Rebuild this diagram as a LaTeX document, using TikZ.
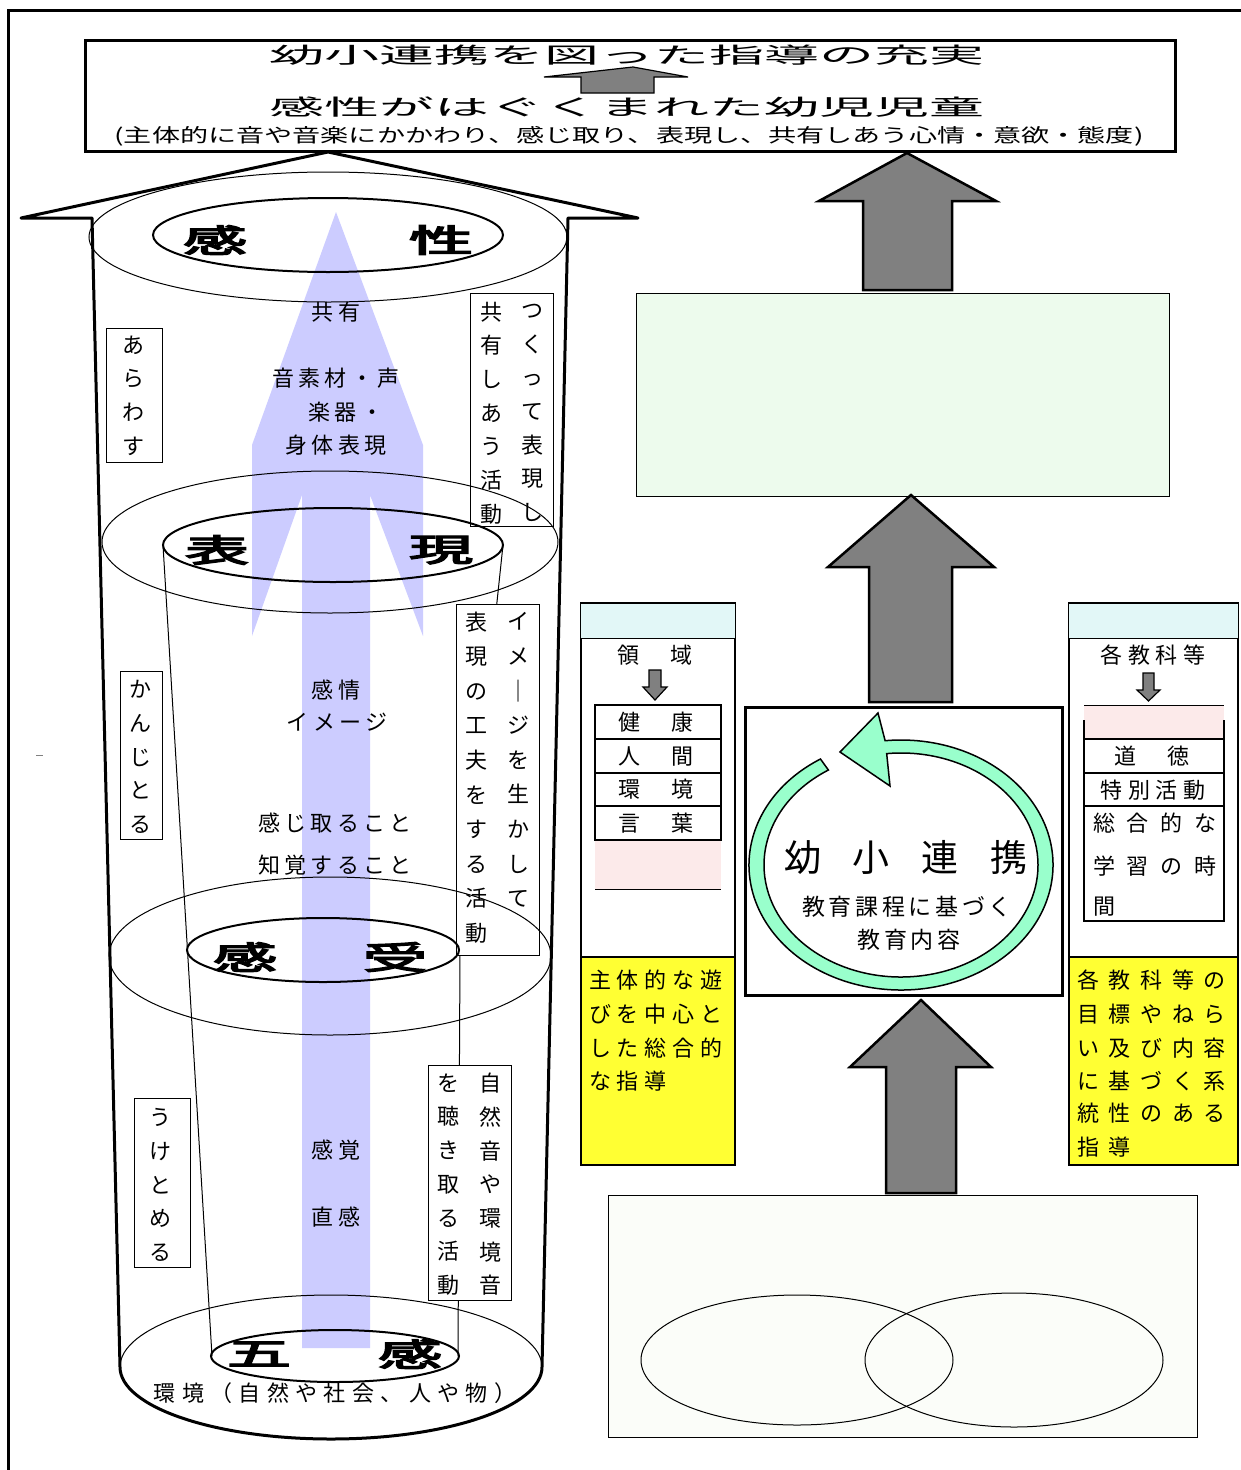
\documentclass[tikz,border=0pt]{standalone}
\usepackage{graphicx}
\usepackage{fontspec}
\setmainfont{Noto Sans CJK JP}
\newfontfamily\jpfont[LetterSpace=20]{Noto Sans CJK JP}
\newfontfamily\jpplain{Noto Sans CJK JP}
\newfontfamily\jpbold[FakeBold=4]{Noto Sans CJK JP}
\usetikzlibrary{calc}
\definecolor{lav}{HTML}{CCCCFF}
\definecolor{mint}{HTML}{99FFCC}
\definecolor{ylw}{HTML}{FFFF33}
\definecolor{cyanpat}{HTML}{E2F7F7}
\definecolor{pinkpat}{HTML}{FCEAEA}
\definecolor{greenpat}{HTML}{EDFBED}
\definecolor{offwhite}{HTML}{FBFDF9}
\definecolor{arrowgray}{HTML}{808080}
\begin{document}
\begin{tikzpicture}[x=1pt,y=-1pt,
  txt/.style={inner sep=0pt, font=\jpfont\fontsize{22}{22}\selectfont},
  vtxt/.style={inner sep=0pt, align=center, font=\jpplain\fontsize{22}{33.7}\selectfont},
  vtxtb/.style={inner sep=0pt, align=center, font=\jpplain\fontsize{22}{34.6}\selectfont},
  big/.style={inner sep=0pt, font=\jpbold\fontsize{32}{32}\selectfont},
  tbox/.style={draw, line width=1pt, fill=white},
  thin/.style={line width=1pt},
  ringline/.style={line width=2pt},
  garrow/.style={fill=arrowgray, draw=black, line width=2.5pt, line join=miter},
  sarrow/.style={fill=arrowgray, draw=black, line width=1.2pt, line join=miter},
]
\useasboundingbox (0,0) rectangle (1241,1470);
\fill[white] (0,0) rectangle (1241,1470);

% outer frame
\draw[line width=3pt] (1241,10) -- (8,10) -- (8,1470);
\draw[gray, line width=1pt] (36,755) -- (43,755);

% ---------------- top box ----------------
\draw[line width=3pt] (85,40) rectangle (1175,151);
\node[inner sep=0pt] (t1) at (627,55) {\scalebox{2.5}[1]{\jpplain\fontsize{22}{22}\selectfont 幼小連携を図った指導の充実}};
\filldraw[sarrow] (633,67) -- (688,77) -- (654,77) -- (654,93) -- (581,93) -- (581,77) -- (544,77) -- cycle;
\node[inner sep=0pt] (t2) at (627,107) {\scalebox{2.5}[1]{\jpplain\fontsize{22}{22}\selectfont 感性がはぐくまれた幼児児童}};
\node[inner sep=0pt] (t3) at (629,136) {\scalebox{1.48}[1]{\jpplain\fontsize{19}{19}\selectfont (主体的に音や音楽にかかわり、感じ取り、表現し、共有しあう心情・意欲・態度)}};

% ---------------- left: blue arrow ----------------
\fill[lav] (336,212) -- (423,445) -- (423,636) -- (370,495) -- (370,1348) -- (302,1348) -- (302,495) -- (252,636) -- (252,445) -- cycle;

% big house arrow outline
\draw[line width=3pt, line join=round] (328,152) -- (638,218) -- (568,218) -- (542,1367)
  arc[start angle=0, end angle=180, x radius=211, y radius=72] -- (92,218) -- (21,218) -- cycle;

% inner cup lines
\draw[thin] (163,545) -- (212,1356);
\draw[thin] (503,545) -- (460,952) -- (458,1356);

% text boxes (vertical text)
\draw[tbox] (106,328) rectangle (162,462);
\draw[tbox] (120,671) rectangle (162,839);
\draw[tbox] (134,1098) rectangle (190,1267);
\draw[tbox] (470,293) rectangle (553,526);
\draw[tbox] (456,604) rectangle (539,955);
\draw[tbox] (428,1065) rectangle (511,1300);

% ellipses
\draw[thin] (328,237) ellipse [x radius=239, y radius=65];
\draw[ringline] (328,235) ellipse [x radius=175, y radius=37];
\draw[thin] (330,542) ellipse [x radius=228, y radius=71];
\draw[ringline] (333,545) ellipse [x radius=170, y radius=37];
\draw[thin] (330,956) ellipse [x radius=221, y radius=79];
\draw[ringline] (323,950) ellipse [x radius=136, y radius=32];
\draw[thin] (331,1367) ellipse [x radius=211, y radius=72];
\draw[ringline] (335,1356) ellipse [x radius=124, y radius=26];

% big characters
\node[big] (k1) at (215,240) {\scalebox{2}[1]{感}};
\node[big] (k2) at (441,240) {\scalebox{2}[1]{性}};
\node[big] (h1) at (217,550) {\scalebox{2}[1]{表}};
\node[big] (h2) at (441,550) {\scalebox{2}[1]{現}};
\node[big] (j1) at (245,957) {\scalebox{2}[1]{感}};
\node[big] (j2) at (395,957) {\scalebox{2}[1]{受}};
\node[big] (g1) at (259,1354) {\scalebox{2}[1]{五}};
\node[big] (g2) at (410,1354) {\scalebox{2}[1]{感}};

% center texts
\node[txt] (c1) at (336,312) {共有};
\node[txt] (c2) at (336,378) {音素材・声};
\node[txt] (c3) at (346,412) {楽器・};
\node[txt] (c4) at (336,445) {身体表現};
\node[txt] (c5) at (336,690) {感情};
\node[txt] (c6) at (337,722) {イメージ};
\node[txt] (c7) at (335,823) {感じ取ること};
\node[txt] (c8) at (335,865) {知覚すること};
\node[txt] (c9) at (336,1150) {感覚};
\node[txt] (c10) at (336,1217) {直感};
\node[txt, font=\jpplain\fontsize{22}{22}\selectfont\addfontfeature{LetterSpace=29}] (c11) at (335,1393) {環境（自然や社会、人や物）};

% vertical texts
\node[vtxt] (v1) at (133,395.5) {あ\\ら\\わ\\す};
\node[vtxt] (v2) at (140.5,757) {か\\ん\\じ\\と\\る};
\node[vtxt] (v3) at (160,1185) {う\\け\\と\\め\\る};
\node[vtxt] (v4) at (532,413) {つ\\く\\っ\\て\\表\\現\\し};
\node[vtxt] (v5) at (491,413) {共\\有\\し\\あ\\う\\活\\動};
\node[vtxtb] (v6) at (518,760) {イ\\メ\\｜\\ジ\\を\\生\\か\\し\\て};
\node[vtxtb] (v7) at (476,777.5) {表\\現\\の\\工\\夫\\を\\す\\る\\活\\動};
\node[vtxt] (v8) at (490,1184.5) {自\\然\\音\\や\\環\\境\\音};
\node[vtxt] (v9) at (448,1184.5) {を\\聴\\き\\取\\る\\活\\動};

% ---------------- right side ----------------
% top gray arrow
\filldraw[garrow] (907,153) -- (996,201) -- (952,201) -- (952,290) -- (863,290) -- (863,201) -- (819,201) -- cycle;
% green box
\draw[thin, fill=greenpat] (636,293) rectangle (1169,496);
% middle gray arrow
\filldraw[garrow] (911,495) -- (994,567) -- (952,567) -- (952,702) -- (869,702) -- (869,567) -- (828,567) -- cycle;

% center box with ring
\draw[line width=3pt] (745,707) rectangle (1062,995);
\filldraw[fill=mint, line width=1.5pt, line join=miter]
  ($(901,865)+(238:152 and 125)$) arc[start angle=238, end angle=-96, x radius=152, y radius=125]
  -- (878,713) -- (840,752) -- (890,786)
  -- ($(901,865)+(-96:137 and 112)$) arc[start angle=-96, end angle=238, x radius=137, y radius=112]
  -- cycle;
\node[inner sep=0pt, font=\jpplain\fontsize{37}{37}\selectfont] (yo) at (906,857) {幼\hspace{32pt}小\hspace{32pt}連\hspace{32pt}携};
\node[inner sep=0pt, font=\jpplain\fontsize{23}{23}\selectfont\addfontfeature{LetterSpace=16}] (yo2) at (907,907) {教育課程に基づく};
\node[inner sep=0pt, font=\jpplain\fontsize{23}{23}\selectfont\addfontfeature{LetterSpace=16}] (yo3) at (909,940) {教育内容};

% bottom gray arrow
\filldraw[garrow] (921,1000) -- (991,1067) -- (956,1067) -- (956,1193) -- (886,1193) -- (886,1067) -- (850,1067) -- cycle;

% bottom box
\draw[thin, fill=offwhite] (608,1195) rectangle (1197,1437);
\draw[thin] (797,1360) ellipse [x radius=156, y radius=65];
\draw[thin] (1014,1360) ellipse [x radius=149, y radius=67];

% left panel
\draw[line width=1.5pt, fill=white] (581,603) rectangle (735,1165);
\fill[cyanpat] (581,603) rectangle (735,638);
\draw[thin] (581,603) -- (735,603);
\draw[thin] (581,638) -- (735,638);
\draw[line width=1.5pt, fill=ylw] (581,957) rectangle (735,1165);
\node[txt] (ryo) at (655,655) {領　域};
\filldraw[sarrow] (655,700) -- (667,687) -- (661,687) -- (661,670) -- (649,670) -- (649,687) -- (643,687) -- cycle;
\fill[pinkpat] (595,840) rectangle (721,889);
\draw[thin] (595,889) -- (721,889);
\draw[line width=2pt] (595,705) rectangle (721,739);
\draw[line width=2pt] (595,739) rectangle (721,773);
\draw[line width=2pt] (595,773) rectangle (721,806);
\draw[line width=2pt] (595,806) rectangle (721,840);
\node[txt] (r1) at (656,722) {健　康};
\node[txt] (r2) at (656,756) {人　間};
\node[txt] (r3) at (656,789.5) {環　境};
\node[txt] (r4) at (656,823) {言　葉};
\node[txt, anchor=west, font=\jpplain\fontsize{22}{22}\selectfont\addfontfeature{LetterSpace=26}] (y1) at (589,980) {主体的な遊};
\node[txt, anchor=west, font=\jpplain\fontsize{22}{22}\selectfont\addfontfeature{LetterSpace=26}] (y2) at (589,1014) {びを中心と};
\node[txt, anchor=west, font=\jpplain\fontsize{22}{22}\selectfont\addfontfeature{LetterSpace=26}] (y3) at (589,1048) {した総合的};
\node[txt, anchor=west, font=\jpplain\fontsize{22}{22}\selectfont\addfontfeature{LetterSpace=26}] (y4) at (589,1081) {な指導};

% right panel
\draw[line width=1.5pt, fill=white] (1069,603) rectangle (1238,1165);
\fill[cyanpat] (1069,603) rectangle (1238,638);
\draw[thin] (1069,603) -- (1238,603);
\draw[thin] (1069,638) -- (1238,638);
\draw[line width=1.5pt, fill=ylw] (1069,957) rectangle (1238,1165);
\node[txt, font=\jpplain\fontsize{22}{22}\selectfont\addfontfeature{LetterSpace=27}] (kk) at (1153,655) {各教科等};
\filldraw[sarrow] (1148.5,701) -- (1160,690) -- (1154,690) -- (1154,673) -- (1143,673) -- (1143,690) -- (1137,690) -- cycle;
\fill[pinkpat] (1084,705) rectangle (1224,739);
\draw[thin] (1084,705) -- (1224,705);
\draw[line width=2pt] (1084,739) rectangle (1224,773);
\draw[line width=2pt] (1084,773) rectangle (1224,806);
\draw[line width=2pt] (1084,806) rectangle (1224,921);
\draw[line width=2pt] (1084,720) -- (1084,739);
\draw[line width=2pt] (1224,720) -- (1224,739);
\node[txt] (s1) at (1152,756) {道　徳};
\node[txt, font=\jpplain\fontsize{22}{22}\selectfont\addfontfeature{LetterSpace=27}] (s2) at (1153,790) {特別活動};
\node[txt, anchor=west, font=\jpplain\fontsize{22}{22}\selectfont\addfontfeature{LetterSpace=53}] (s3) at (1093,823) {総合的な};
\node[txt, anchor=west, font=\jpplain\fontsize{22}{22}\selectfont\addfontfeature{LetterSpace=53}] (s4) at (1093,866) {学習の時};
\node[txt, anchor=west, font=\jpplain\fontsize{22}{22}\selectfont] (s5) at (1093,907) {間};
\node[txt, anchor=west, font=\jpplain\fontsize{22}{22}\selectfont\addfontfeature{LetterSpace=44}] (z1) at (1077,980) {各教科等の};
\node[txt, anchor=west, font=\jpplain\fontsize{22}{22}\selectfont\addfontfeature{LetterSpace=44}] (z2) at (1077,1014) {目標やねら};
\node[txt, anchor=west, font=\jpplain\fontsize{22}{22}\selectfont\addfontfeature{LetterSpace=44}] (z3) at (1077,1048) {い及び内容};
\node[txt, anchor=west, font=\jpplain\fontsize{22}{22}\selectfont\addfontfeature{LetterSpace=44}] (z4) at (1077,1081) {に基づく系};
\node[txt, anchor=west, font=\jpplain\fontsize{22}{22}\selectfont\addfontfeature{LetterSpace=44}] (z5) at (1077,1113) {統性のある};
\node[txt, anchor=west, font=\jpplain\fontsize{22}{22}\selectfont\addfontfeature{LetterSpace=44}] (z6) at (1077,1147) {指導};
\end{tikzpicture}
\end{document}
